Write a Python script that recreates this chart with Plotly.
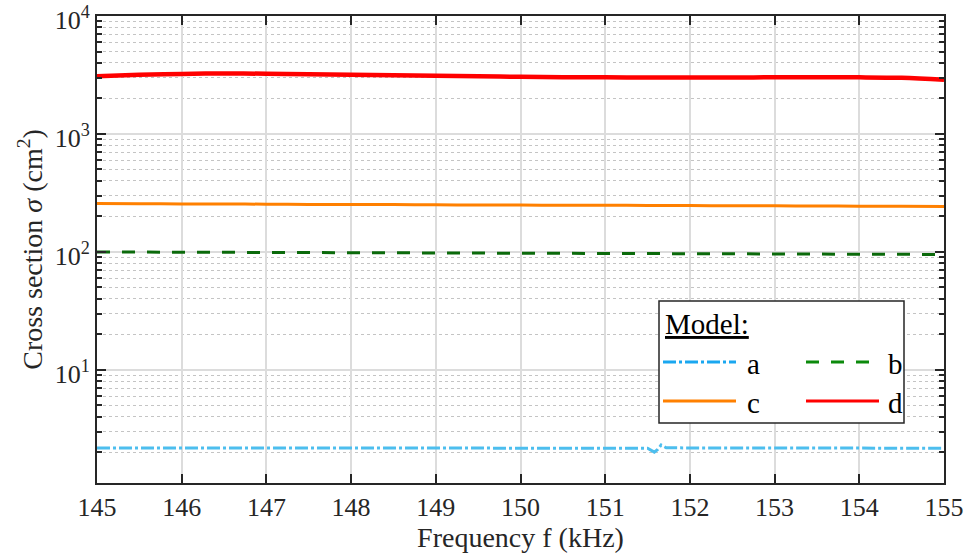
import numpy as np
import plotly.graph_objects as go

# ---- data ----
freq_a = [145, 146, 147, 148, 149, 150, 151, 151.5, 151.58, 151.62, 151.66, 151.72, 152, 153, 154, 155]
sigma_a = [2.18, 2.18, 2.18, 2.18, 2.18, 2.18, 2.17, 2.17, 2.01, 2.12, 2.31, 2.19, 2.18, 2.18, 2.17, 2.17]

freq = [145, 145.5, 146, 146.5, 147, 147.5, 148, 148.5, 149, 149.5, 150, 150.5, 151, 151.5, 152, 152.5, 153, 153.5, 154, 154.5, 155]
sigma_b = [100, 99.8, 99.6, 99.4, 99.2, 99.0, 98.8, 98.5, 98.2, 98.0, 97.8, 97.6, 97.4, 97.1, 96.8, 96.5, 96.2, 96.0, 95.7, 95.4, 95.2]
sigma_c = [257, 256, 255.5, 255, 254, 253, 252.5, 252, 251, 250, 249.5, 249, 248.5, 248, 247, 246.5, 246, 245, 244.5, 244, 243]
sigma_d = [3090, 3170, 3230, 3260, 3240, 3210, 3170, 3140, 3110, 3080, 3050, 3030, 3020, 3010, 3010, 3015, 3020, 3020, 3020, 2990, 2880]

x_ticks = list(range(145, 156))
y_major = [10, 100, 1000, 10000]
y_major_text = ["10<sup>1</sup>", "10<sup>2</sup>", "10<sup>3</sup>", "10<sup>4</sup>"]
y_minor = [m * 10 ** e for e in range(0, 4) for m in range(2, 10)]

FONT = "Liberation Serif"
AX = "#262626"

fig = go.Figure()
fig.add_trace(go.Scatter(x=freq_a, y=sigma_a, mode="lines", name="a",
                         line=dict(color="#4DBEEE", width=3, dash="13px,3px,3px,3px")))
fig.add_trace(go.Scatter(x=freq, y=sigma_b, mode="lines", name="b",
                         line=dict(color="#0B6A0B", width=3, dash="13px,12px")))
fig.add_trace(go.Scatter(x=freq, y=sigma_c, mode="lines", name="c", line_shape="spline",
                         line=dict(color="#FF8000", width=3)))
fig.add_trace(go.Scatter(x=freq, y=sigma_d, mode="lines", name="d", line_shape="spline",
                         line=dict(color="#FF0000", width=4.5)))

fig.update_layout(
    width=969, height=556,
    margin=dict(l=97, r=25, t=16, b=73),
    paper_bgcolor="white", plot_bgcolor="white",
    showlegend=False,
    font=dict(family=FONT, color=AX),
)
fig.update_xaxes(
    range=[145, 155], tickmode="array", tickvals=x_ticks,
    ticks="inside", ticklen=9, tickwidth=1.5, tickcolor=AX,
    showline=True, linecolor=AX, linewidth=2, mirror="allticks",
    showgrid=True, gridcolor="#DCDCDC", gridwidth=1.5,
    tickfont=dict(size=26, family=FONT, color=AX),
    ticklabeloverflow="allow", automargin=False,
    title=dict(text="Frequency f (kHz)", font=dict(size=28, family=FONT, color=AX), standoff=4),
    zeroline=False,
)
fig.update_yaxes(
    type="log", range=[np.log10(1.1), 4.0],
    tickmode="array", tickvals=y_major, ticktext=y_major_text,
    ticks="inside", ticklen=9, tickwidth=1.5, tickcolor=AX,
    showline=True, linecolor=AX, linewidth=2, mirror="allticks",
    showgrid=True, gridcolor="#DCDCDC", gridwidth=1.5,
    minor=dict(tickvals=y_minor, ticks="inside", ticklen=5, tickwidth=1.5, tickcolor=AX,
               showgrid=True, gridcolor="#C4C4C4", griddash="dot", gridwidth=1),
    tickfont=dict(size=26, family=FONT, color=AX),
    ticklabeloverflow="allow", automargin=False, ticklabelshift=4,
    title=dict(text="Cross section <i>σ</i> (cm<sup>2</sup>)", font=dict(size=28, family=FONT, color=AX), standoff=4),
    zeroline=False,
)

# ---- manual legend (pixel -> paper) ----
L, R, T, B = 97, 944, 16, 483
def px(x):
    return (x - L) / (R - L)
def py(y):
    return (B - y) / (B - T)

fig.add_shape(type="rect", xref="paper", yref="paper",
              x0=px(659), x1=px(904), y0=py(423), y1=py(301),
              line=dict(color=AX, width=1.5), fillcolor="white", layer="above")
fig.add_annotation(xref="paper", yref="paper", x=px(663), y=py(324), xanchor="left", yanchor="middle",
                   text="<u>Model:</u>", showarrow=False, font=dict(size=29, family=FONT, color="black"))

leg = [
    ("a", "#1AA7F0", "13px,3px,3px,3px", 663, 736, 362, 745),
    ("b", "#0B8A0B", "13px,12px", 806, 879, 362, 886),
    ("c", "#FF8000", "solid", 663, 736, 401, 745),
    ("d", "#FF0000", "solid", 806, 879, 401, 886),
]
for name, col, dash, x0, x1, yy, xt in leg:
    fig.add_shape(type="line", xref="paper", yref="paper", x0=px(x0), x1=px(x1), y0=py(yy), y1=py(yy),
                  line=dict(color=col, width=3, dash=dash), layer="above")
    fig.add_annotation(xref="paper", yref="paper", x=px(xt), y=py(yy + 2), xanchor="left", yanchor="middle",
                       text=name, showarrow=False, font=dict(size=29, family=FONT, color="black"))

fig.write_html("out.html")
